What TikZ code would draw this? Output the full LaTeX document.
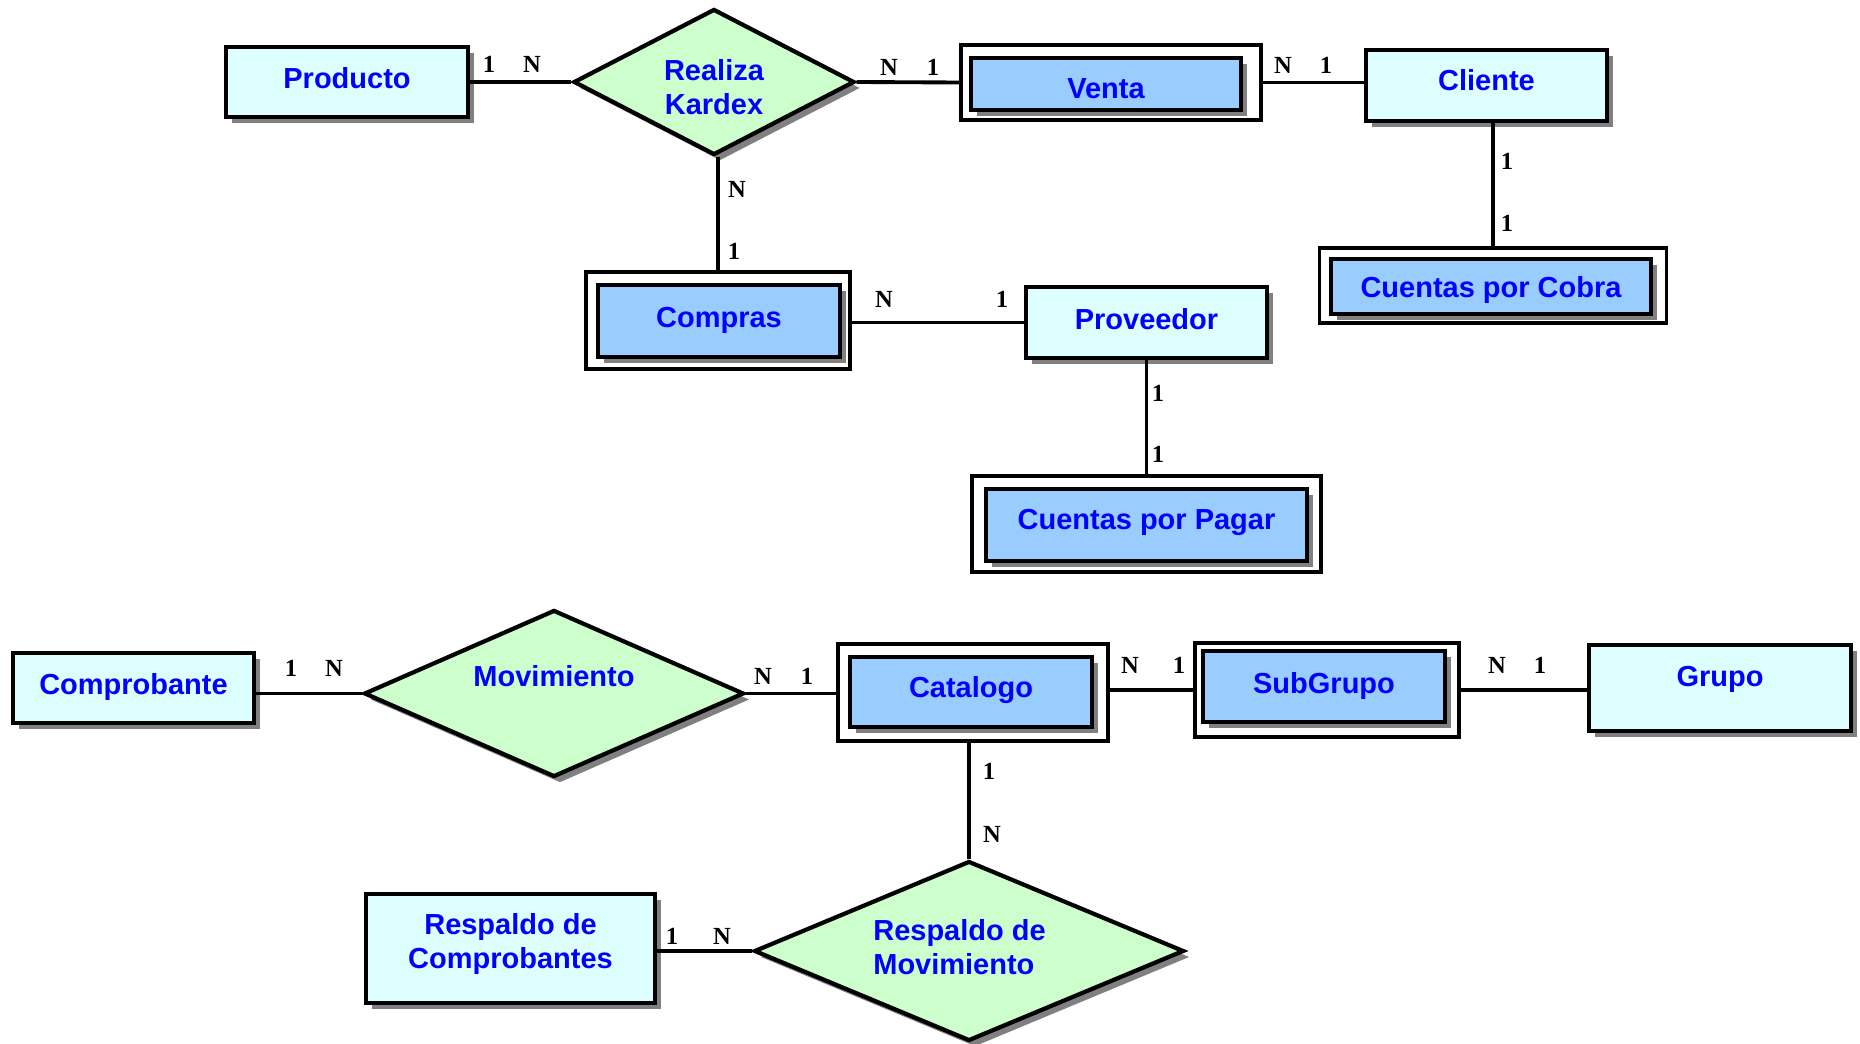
\documentclass[tikz,border=0pt]{standalone}
\usepackage{fontspec}
\setmainfont{Liberation Sans}
\newfontfamily\cardfont{Liberation Serif}
\usetikzlibrary{shapes.geometric}
\usetikzlibrary{shadows}

\definecolor{entfill}{HTML}{DDFFFF}
\definecolor{weakfill}{HTML}{99CCFF}
\definecolor{relfill}{HTML}{CCFFCC}
\definecolor{txtblue}{HTML}{0000FF}
\newcommand{\lift}[2]{\raisebox{#1}[\height][\depth]{#2}}

\begin{document}
\begin{tikzpicture}[x=0.02cm, y=-0.02cm,
  shadowed/.style={drop shadow={shadow xshift=0.12cm, shadow yshift=-0.12cm, fill=black!50, opacity=1}},
  entity/.style={draw, line width=2.4pt, fill=entfill, shadowed, inner sep=0pt, text=txtblue,
    font=\bfseries\fontsize{16.5}{19.5}\selectfont, align=center},
  weak/.style={entity, fill=weakfill},
  outerbox/.style={draw, line width=2pt, fill=white, inner sep=0pt},
  rel/.style={diamond, aspect=2, draw, line width=2.4pt, fill=relfill, shadowed, inner sep=0pt},
  label text/.style={text=txtblue, font=\bfseries\fontsize{16.5}{19.5}\selectfont, inner sep=0pt},
  card/.style={font=\cardfont\bfseries\fontsize{14}{14}\selectfont, inner sep=0pt},
  link/.style={line width=2.2pt}]
\useasboundingbox (0,0) rectangle (1860,1044);

% upper part: ventas y compras
\node[entity, minimum width=4.84cm, minimum height=1.40cm] (producto) at (347,82) {\lift{2pt}{Producto}};
\node[rel, minimum width=5.62cm, minimum height=2.92cm] (realiza) at (714,82) {};
\node[label text, align=center] (realizaText) at (714,87) {Realiza\\Kardex};
\node[outerbox, minimum width=6.00cm, minimum height=1.50cm] (ventaO) at (1111,82.5) {};
\node[weak, minimum width=5.40cm, minimum height=1.04cm] (venta) at (1106,84) {\lift{-2.7pt}{Venta}};
\node[entity, minimum width=4.82cm, minimum height=1.42cm] (cliente) at (1486.5,85.5) {\lift{3pt}{Cliente}};
\node[outerbox, minimum width=6.94cm, minimum height=1.50cm] (cobraO) at (1493,285.5) {};
\node[weak, minimum width=6.40cm, minimum height=1.10cm] (cobra) at (1491,286.5) {\lift{-2pt}{Cuentas por Cobra}};
\node[outerbox, minimum width=5.28cm, minimum height=1.94cm] (comprasO) at (718,320.5) {};
\node[weak, minimum width=4.84cm, minimum height=1.44cm] (compras) at (719,321) {\lift{0.6pt}{Compras}};
\node[entity, minimum width=4.82cm, minimum height=1.42cm] (proveedor) at (1146.5,322.5) {\lift{2pt}{Proveedor}};
\node[outerbox, minimum width=6.98cm, minimum height=1.92cm] (pagarO) at (1146.5,524) {};
\node[weak, minimum width=6.42cm, minimum height=1.44cm] (pagar) at (1146.5,525) {\lift{1.3pt}{Cuentas por Pagar}};

\draw[link] (producto.east) -- (realiza.west);
\draw[link] (realiza.east) -- (ventaO.west);
\draw[link] (ventaO.east) -- (ventaO.east -| cliente.west);
\draw[link] (cobraO.north) -- (cobraO.north |- cliente.south);
\draw[link] (comprasO.north) -- (comprasO.north |- realiza.south);
\draw[link] (comprasO.east |- proveedor.west) -- (proveedor.west);
\draw[link] (proveedor.south) -- (pagarO.north);

\node[card] (cProdA) at (489,64) {1};
\node[card] (cProdB) at (532,64) {N};
\node[card] (cVentA) at (889,67) {N};
\node[card] (cVentB) at (933,67) {1};
\node[card] (cCliA) at (1283,65) {N};
\node[card] (cCliB) at (1326,65) {1};
\node[card] (cCobA) at (1507,161) {1};
\node[card] (cCobB) at (1507,223) {1};
\node[card] (cCompA) at (737,189) {N};
\node[card] (cCompB) at (734,251) {1};
\node[card] (cProvA) at (884,299) {N};
\node[card] (cProvB) at (1002,299) {1};
\node[card] (cPagA) at (1158,393) {1};
\node[card] (cPagB) at (1158,454) {1};

% lower part: movimientos
\node[entity, minimum width=4.82cm, minimum height=1.40cm] (comprobante) at (133.5,688) {\lift{0.6pt}{Comprobante}};
\node[rel, minimum width=7.60cm, minimum height=3.34cm] (movimiento) at (554,693.5) {};
\node[label text] (movText) at (554,676) {Movimiento};
\node[outerbox, minimum width=5.40cm, minimum height=1.94cm] (catalogoO) at (973,692.5) {};
\node[weak, minimum width=4.84cm, minimum height=1.40cm] (catalogo) at (971,692) {\lift{1.3pt}{Catalogo}};
\node[outerbox, minimum width=5.28cm, minimum height=1.88cm] (subgrupoO) at (1327,690) {};
\node[weak, minimum width=4.84cm, minimum height=1.42cm] (subgrupo) at (1324,686.5) {SubGrupo};
\node[entity, minimum width=5.24cm, minimum height=1.72cm] (grupo) at (1720,688) {};
\node[label text] (grupoText) at (1720,679) {Grupo};
\node[rel, minimum width=8.60cm, minimum height=3.60cm] (respMov) at (969,951) {};
\node[label text, align=left, anchor=west] (respMovText) at (873,947) {Respaldo de\\Movimiento};
\node[entity, minimum width=5.78cm, minimum height=2.18cm] (respComp) at (510.5,948.5) {};
\node[label text, align=center] (respCompText) at (510.5,944) {Respaldo de\\Comprobantes};

\draw[link] (comprobante.east |- movimiento.west) -- (movimiento.west);
\draw[link] (movimiento.east) -- (movimiento.east -| catalogoO.west);
\draw[link] (catalogoO.east |- subgrupoO.west) -- (subgrupoO.west);
\draw[link] (subgrupoO.east) -- (subgrupoO.east -| grupo.west);
\draw[link] (respMov.north) -- (respMov.north |- catalogoO.south);
\draw[link] (respComp.east |- respMov.west) -- (respMov.west);

\node[card] (cMovA) at (291,668) {1};
\node[card] (cMovB) at (334,668) {N};
\node[card] (cCatA) at (763,676) {N};
\node[card] (cCatB) at (807,676) {1};
\node[card] (cSubA) at (1130,665) {N};
\node[card] (cSubB) at (1179,665) {1};
\node[card] (cGruA) at (1497,665) {N};
\node[card] (cGruB) at (1540,665) {1};
\node[card] (cResA) at (989,771) {1};
\node[card] (cResB) at (992,834) {N};
\node[card] (cRcA) at (672,936) {1};
\node[card] (cRcB) at (722,936) {N};
\end{tikzpicture}
\end{document}
